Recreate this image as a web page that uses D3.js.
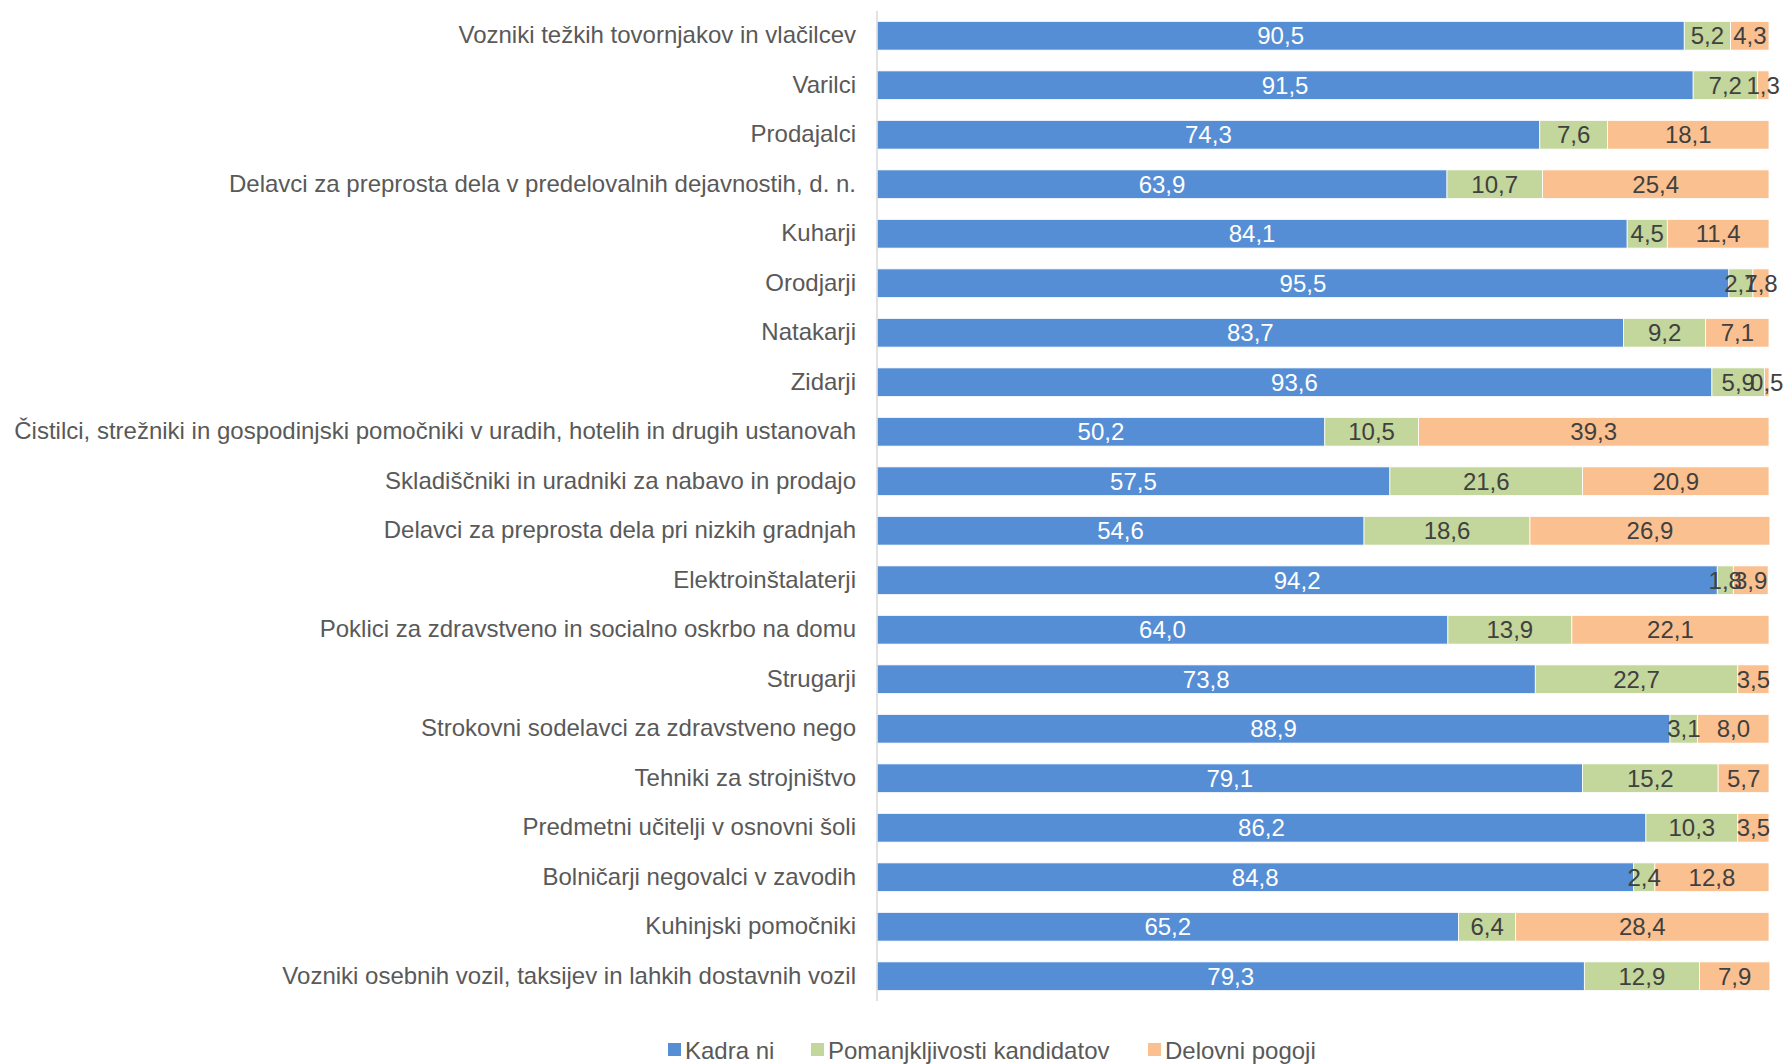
<!DOCTYPE html>
<html><head><meta charset="utf-8">
<script src="https://cdn.jsdelivr.net/npm/d3@7"></script>
<style>
html,body{margin:0;padding:0;background:#fff;}
svg text{font-family:"Liberation Sans Narrow","Arial Narrow","Liberation Sans",sans-serif;}
</style></head><body>
<svg id="c" width="1787" height="1064"></svg>
<script>
const categories = [
"Vozniki težkih tovornjakov in vlačilcev",
"Varilci",
"Prodajalci",
"Delavci za preprosta dela v predelovalnih dejavnostih, d. n.",
"Kuharji",
"Orodjarji",
"Natakarji",
"Zidarji",
"Čistilci, strežniki in gospodinjski pomočniki v uradih, hotelih in drugih ustanovah",
"Skladiščniki in uradniki za nabavo in prodajo",
"Delavci za preprosta dela pri nizkih gradnjah",
"Elektroinštalaterji",
"Poklici za zdravstveno in socialno oskrbo na domu",
"Strugarji",
"Strokovni sodelavci za zdravstveno nego",
"Tehniki za strojništvo",
"Predmetni učitelji v osnovni šoli",
"Bolničarji negovalci v zavodih",
"Kuhinjski pomočniki",
"Vozniki osebnih vozil, taksijev in lahkih dostavnih vozil"
];
const kadraNi = [90.5,91.5,74.3,63.9,84.1,95.5,83.7,93.6,50.2,57.5,54.6,94.2,64.0,73.8,88.9,79.1,86.2,84.8,65.2,79.3];
const pomanjkljivosti = [5.2,7.2,7.6,10.7,4.5,2.7,9.2,5.9,10.5,21.6,18.6,1.8,13.9,22.7,3.1,15.2,10.3,2.4,6.4,12.9];
const delovniPogoji = [4.3,1.3,18.1,25.4,11.4,1.8,7.1,0.5,39.3,20.9,26.9,3.9,22.1,3.5,8.0,5.7,3.5,12.8,28.4,7.9];
const seriesNames = ["Kadra ni","Pomanjkljivosti kandidatov","Delovni pogoji"];
const seriesColors = ["#558ED5","#C3D69B","#FAC090"];

const svg = d3.select("#c");
const pLeft = 877, pRight = 1769, pTop = 11, pBottom = 1001;
const x = d3.scaleLinear().domain([0,100]).range([pLeft,pRight]);
const y = d3.scaleBand().domain(categories).range([pTop,pBottom]).paddingInner(0.42).paddingOuter(0.21);

const rows = categories.map((c,i)=>({cat:c, vals:[kadraNi[i],pomanjkljivosti[i],delovniPogoji[i]]}));
const fmt = v => v.toFixed(1).replace(".",",");

rows.forEach(r=>{
  let acc = 0;
  r.vals.forEach((v,k)=>{
    const x0 = x(acc), x1 = x(acc+v);
    svg.append("rect").attr("x",x0).attr("y",y(r.cat)).attr("width",x1-x0).attr("height",y.bandwidth())
      .attr("fill",seriesColors[k]).attr("stroke","#fff").attr("stroke-width",0.8);
    acc += v;
  });
});
rows.forEach(r=>{
  let acc = 0;
  r.vals.forEach((v,k)=>{
    const cx = x(acc + v/2);
    svg.append("text").attr("x",cx).attr("y",y(r.cat)+y.bandwidth()/2).attr("dy","0.36em")
      .attr("text-anchor","middle").attr("font-size",24)
      .attr("fill", k===0 ? "#ffffff" : "#404040").text(fmt(v));
    acc += v;
  });
});

// axis
const ax = svg.append("g").attr("transform",`translate(${pLeft},0)`)
  .call(d3.axisLeft(y).tickSize(0).tickPadding(21));
ax.select(".domain").attr("stroke","#d9d9d9").attr("stroke-width",1.5).attr("d",`M0,${pTop}V${pBottom}`);
ax.selectAll("text").attr("font-size",24).attr("fill","#595959").attr("font-family",null);

// legend
const legX = [668, 811, 1148];
const lg = svg.append("g");
seriesNames.forEach((n,k)=>{
  lg.append("rect").attr("x",legX[k]).attr("y",1043).attr("width",13).attr("height",13).attr("fill",seriesColors[k]);
  lg.append("text").attr("x",legX[k]+17).attr("y",1050).attr("dy","0.36em").attr("font-size",24).attr("fill","#595959").text(n);
});
</script></body></html>
